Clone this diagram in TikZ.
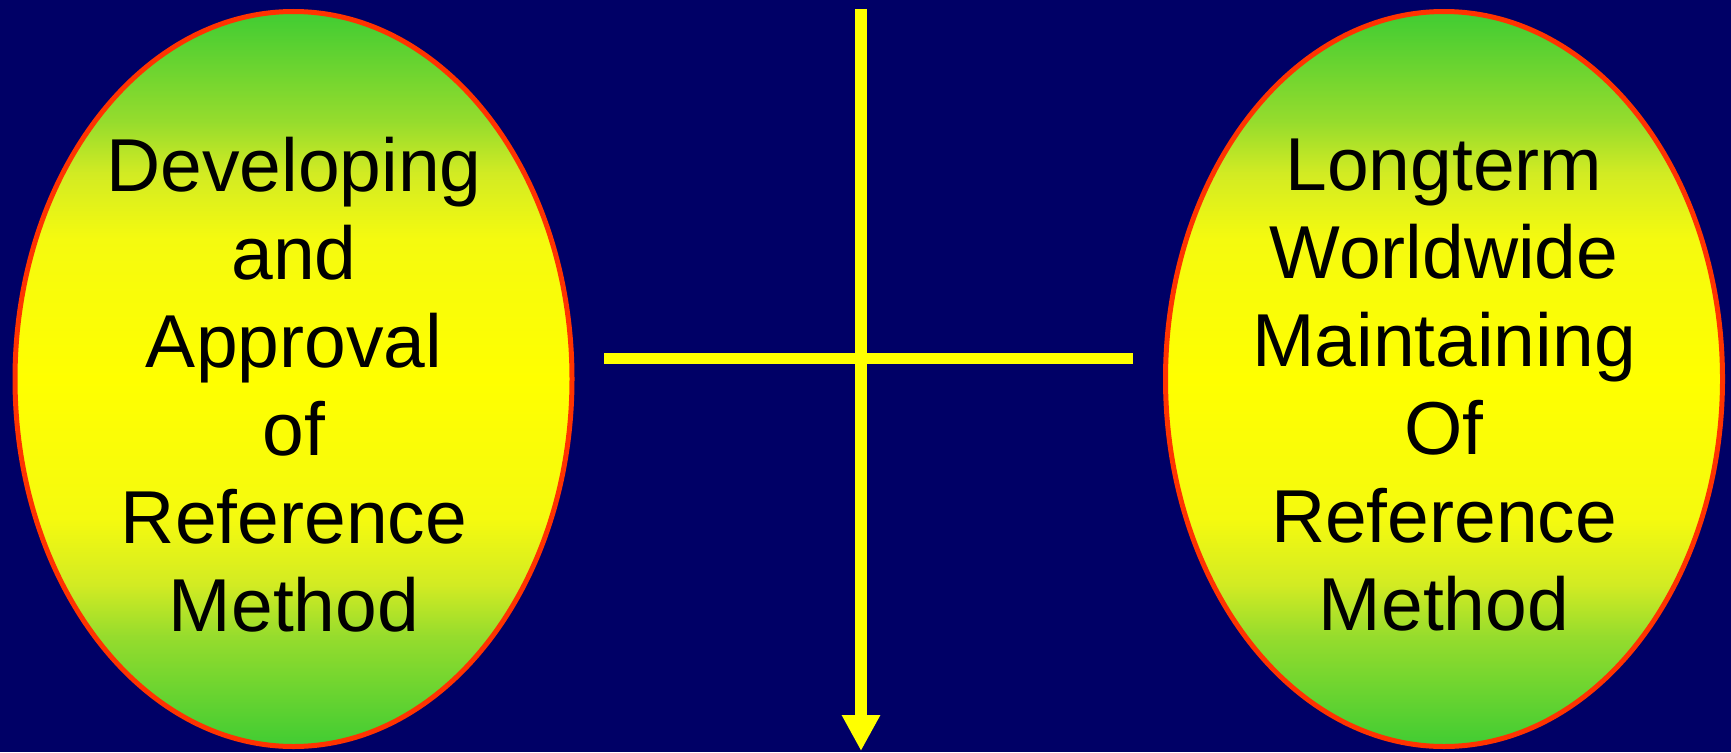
\documentclass[tikz,border=0pt]{standalone}
\usepackage{fontspec}
\setmainfont{Liberation Sans}
\usetikzlibrary{shapes.geometric,arrows.meta}
\definecolor{bgblue}{RGB}{0,0,102}
\definecolor{ovgreen}{RGB}{64,204,51}
\definecolor{ovg1}{RGB}{150,220,45}
\definecolor{ovg2}{RGB}{210,235,35}
\definecolor{ovg3}{RGB}{245,250,15}
\definecolor{ovyellow}{RGB}{255,255,0}
\definecolor{ovred}{RGB}{255,51,0}
\definecolor{lineyellow}{RGB}{255,255,0}
\pgfdeclareverticalshading{ovalshade}{100bp}{%
  color(0bp)=(ovgreen); color(25bp)=(ovgreen); color(32.5bp)=(ovg1);
  color(36bp)=(ovg2); color(40.5bp)=(ovg3); color(50bp)=(ovyellow);
  color(59.5bp)=(ovg3); color(64bp)=(ovg2); color(67.5bp)=(ovg1);
  color(75bp)=(ovgreen); color(100bp)=(ovgreen)}
\tikzset{
  oval/.style={ellipse, draw=ovred, line width=5pt, minimum width=557pt, minimum height=735pt, inner sep=0pt,
    shading=ovalshade},
  ovaltext/.style={align=center, font=\fontsize{75}{88}\selectfont, text=black, inner sep=0pt},
  bar/.style={draw=lineyellow, line width=11pt},
  timeline/.style={draw=lineyellow, line width=12pt, -{Triangle[width=36pt,length=36pt]}}
}
\begin{document}
\begin{tikzpicture}[x=1pt,y=-1pt]
\fill[bgblue] (0,0) rectangle (1731,752);
\useasboundingbox (0,0) rectangle (1731,752);
\node[oval] (L) at (293.5,379) {};
\node[oval] (R) at (1444,379) {};
\node[ovaltext] (Ltext) at (294,385) {Developing\\and\\Approval\\of\\Reference\\Method};
\node[ovaltext] (Rtext) at (1444,385) {Longterm\\Worldwide\\Maintaining\\Of\\Reference\\Method};
\coordinate (top) at (861,9);
\coordinate (bottom) at (861,751);
\coordinate (hl) at (604,358);
\coordinate (hr) at (1133,358);
\draw[bar] (hl) -- (hr);
\draw[timeline] (top) -- (bottom);
\end{tikzpicture}
\end{document}
